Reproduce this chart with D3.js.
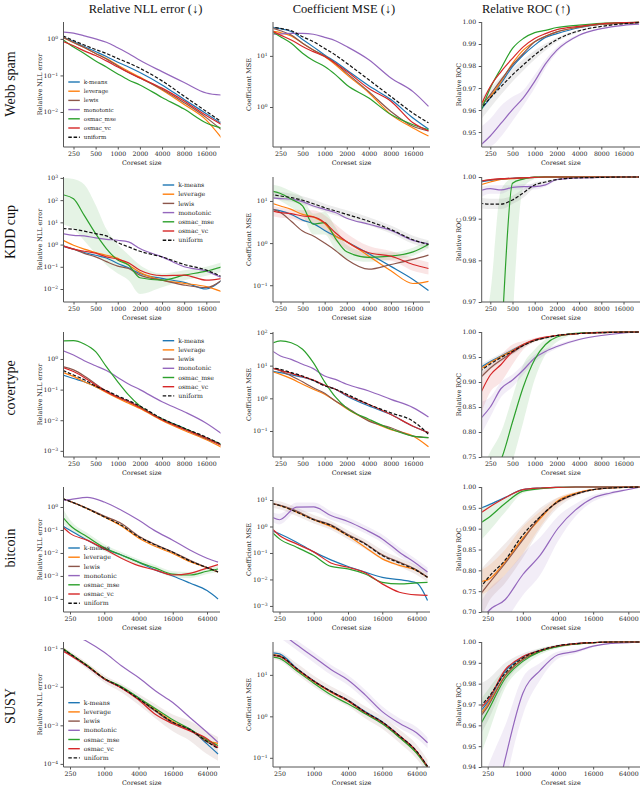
<!DOCTYPE html>
<html>
<head>
<meta charset="utf-8">
<script src="https://cdn.jsdelivr.net/npm/d3@7"></script>
<style>
  body { margin: 0; background: #fff; }
</style>
</head>
<body>
<script>
// ---- labels ----
var methods = ['k-means', 'leverage', 'lewis', 'monotonic', 'osmac_mse', 'osmac_vc', 'uniform'];
var colors = ['#1f77b4', '#ff7f0e', '#8c564b', '#9467bd', '#2ca02c', '#d62728', '#111111'];
var datasets = ['Webb spam', 'KDD cup', 'covertype', 'bitcoin', 'SUSY'];
var titles = ['Relative NLL error (\u2193)', 'Coefficient MSE (\u2193)', 'Relative ROC (\u2191)'];
var yLabels = ['Relative NLL error', 'Coefficient MSE', 'Relative ROC'];

// coreset sizes (first three datasets / last two)
var sizesSmall = [180, 250, 350, 500, 700, 1000, 1400, 2000, 4000, 8000, 16000, 26000];
var sizesLarge = [185, 250, 500, 1000, 2000, 4000, 8000, 16000, 32000, 64000, 100000];
var ticksSmall = [250, 500, 1000, 2000, 4000, 8000, 16000];
var ticksLarge = [250, 1000, 4000, 16000, 64000];

// ROC tick labels
var webbRocTicks = [0.95, 0.96, 0.97, 0.98, 0.99, 1.00];
var kddRocTicks = [0.97, 0.98, 0.99, 1.00];
var covRocTicks = [0.75, 0.80, 0.85, 0.90, 0.95, 1.00];
var btcRocTicks = [0.70, 0.75, 0.80, 0.85, 0.90, 0.95, 1.00];
var susyRocTicks = [0.94, 0.95, 0.96, 0.97, 0.98, 0.99, 1.00];

// ---- values, one row per method (order as in methods) ----
var webbNll = [
  [1.1, 0.85, 0.62, 0.45, 0.33, 0.23, 0.17, 0.12, 0.055, 0.022, 0.009, 0.0048],
  [1.1, 0.8, 0.58, 0.40, 0.29, 0.19, 0.13, 0.09, 0.04, 0.016, 0.006, 0.0019],
  [1.1, 0.8, 0.58, 0.40, 0.28, 0.18, 0.12, 0.085, 0.042, 0.018, 0.007, 0.0032],
  [1.54, 1.44, 1.21, 1.0, 0.81, 0.57, 0.40, 0.26, 0.127, 0.064, 0.033, 0.029],
  [0.95, 0.6, 0.4, 0.25, 0.17, 0.11, 0.075, 0.055, 0.025, 0.012, 0.005, 0.0036],
  [0.85, 0.65, 0.47, 0.35, 0.25, 0.17, 0.12, 0.085, 0.045, 0.02, 0.008, 0.0045],
  [1.21, 0.9, 0.68, 0.51, 0.40, 0.29, 0.22, 0.157, 0.071, 0.027, 0.0103, 0.0053]
];
var webbMse = [
  [36, 34, 30, 21, 15, 10.4, 7.7, 5.3, 2.6, 1.4, 0.61, 0.37],
  [30.5, 28.4, 24.5, 17.6, 13, 9.7, 6.7, 4.3, 1.9, 0.71, 0.39, 0.27],
  [36, 31, 25.5, 17.6, 13, 10, 7.2, 4.6, 2.0, 0.82, 0.42, 0.34],
  [26.5, 27, 27.6, 27.6, 26.5, 23, 19.8, 15.2, 8.4, 3.7, 2.0, 1.03],
  [31, 23.7, 17.6, 11.3, 8.1, 6.2, 4.3, 2.7, 1.5, 0.71, 0.45, 0.36],
  [32, 25.5, 20.5, 15.2, 12.1, 9.7, 7.2, 5.0, 2.3, 1.3, 0.49, 0.34],
  [37, 34.5, 31, 23.7, 19, 14, 10.4, 7.2, 3.4, 1.6, 0.76, 0.49]
];
var webbRoc = [
  [0.9595, 0.9655, 0.9722, 0.9797, 0.985, 0.9895, 0.993, 0.9947, 0.9974, 0.999, 0.9995, 0.9998],
  [0.9632, 0.9662, 0.973, 0.9812, 0.9872, 0.991, 0.9935, 0.9955, 0.9977, 0.999, 0.9995, 0.9998],
  [0.961, 0.967, 0.9737, 0.9805, 0.9857, 0.991, 0.9935, 0.9955, 0.9977, 0.999, 0.9995, 0.9998],
  [0.9437, 0.9482, 0.954, 0.9602, 0.9655, 0.973, 0.981, 0.9872, 0.994, 0.997, 0.9985, 0.999],
  [0.958, 0.970, 0.979, 0.988, 0.9925, 0.9952, 0.9962, 0.9975, 0.9986, 0.9994, 0.9997, 0.9998],
  [0.961, 0.9707, 0.9775, 0.9835, 0.9887, 0.9925, 0.9947, 0.9965, 0.998, 0.9992, 0.9997, 0.9998],
  [0.960, 0.9655, 0.9707, 0.976, 0.9805, 0.985, 0.9887, 0.992, 0.996, 0.998, 0.9992, 0.9997]
];

var kddNll = [
  [0.84, 0.62, 0.44, 0.33, 0.25, 0.14, 0.09, 0.05, 0.03, 0.02, 0.01, 0.025],
  [1.56, 0.93, 0.62, 0.44, 0.33, 0.24, 0.12, 0.056, 0.025, 0.018, 0.0127, 0.0076],
  [0.87, 0.62, 0.4, 0.28, 0.17, 0.107, 0.084, 0.042, 0.025, 0.015, 0.0115, 0.025],
  [3.1, 2.6, 2.45, 2.0, 1.73, 1.56, 1.32, 0.66, 0.28, 0.1, 0.064, 0.032],
  [174, 115, 20.6, 3.1, 0.66, 0.2, 0.12, 0.032, 0.025, 0.042, 0.064, 0.1],
  [0.87, 0.62, 0.5, 0.41, 0.28, 0.22, 0.15, 0.07, 0.04, 0.042, 0.025, 0.03],
  [5.2, 4.9, 4.0, 3.1, 2.45, 1.23, 0.79, 0.5, 0.28, 0.127, 0.071, 0.036]
];
var kddMse = [
  [6.3, 5.8, 4.8, 3.5, 2.9, 2.0, 1.47, 1.08, 0.56, 0.28, 0.137, 0.075],
  [9.1, 7.6, 6.3, 4.8, 4.2, 2.9, 1.47, 1.08, 0.49, 0.22, 0.11, 0.124],
  [6.7, 5.3, 3.3, 1.93, 1.47, 1.0, 0.67, 0.41, 0.24, 0.31, 0.41, 0.52],
  [12, 11.4, 11, 9.6, 7.6, 6.3, 5.3, 3.9, 2.8, 2.0, 1.16, 0.96],
  [17.3, 15, 11, 7.6, 2.8, 3.05, 1.3, 0.62, 0.46, 0.49, 0.62, 0.93],
  [6.0, 5.3, 5.0, 4.4, 4.2, 3.05, 1.76, 1.08, 0.59, 0.49, 0.31, 0.25],
  [14.4, 13.1, 12, 10.4, 8.6, 6.9, 5.8, 4.8, 3.3, 2.1, 1.2, 0.93]
];
var kddRoc = [
  [0.9988, 0.9992, 0.9995, 0.9997, 0.9998, 0.9999, 1.0, 1.0, 1.0, 1.0, 1.0, 1.0],
  [0.9981, 0.9988, 0.9994, 0.9996, 0.9998, 0.9999, 1.0, 1.0, 1.0, 1.0, 1.0, 1.0],
  [0.999, 0.9993, 0.9995, 0.9997, 0.9998, 0.9999, 1.0, 1.0, 1.0, 1.0, 1.0, 1.0],
  [0.9967, 0.9972, 0.9969, 0.9975, 0.9977, 0.9977, 0.9981, 0.9994, 0.9998, 0.9999, 1.0, 1.0],
  [0.90, 0.92, 0.96, 0.9985, 0.9995, 1.0, 1.0, 1.0, 1.0, 1.0, 1.0, 1.0],
  [0.999, 0.9994, 0.9996, 0.9997, 0.9998, 0.9999, 1.0, 1.0, 1.0, 1.0, 1.0, 1.0],
  [0.9937, 0.9935, 0.9935, 0.9945, 0.9962, 0.9981, 0.9988, 0.9994, 0.9998, 0.9999, 1.0, 1.0]
];

var covNll = [
  [0.3, 0.23, 0.18, 0.125, 0.086, 0.056, 0.04, 0.026, 0.011, 0.0055, 0.0026, 0.0016],
  [0.36, 0.27, 0.18, 0.125, 0.08, 0.052, 0.036, 0.024, 0.0098, 0.0046, 0.0023, 0.0013],
  [0.56, 0.44, 0.28, 0.153, 0.09, 0.058, 0.041, 0.027, 0.0105, 0.0052, 0.0025, 0.0015],
  [1.87, 1.35, 0.88, 0.6, 0.42, 0.25, 0.153, 0.1, 0.04, 0.019, 0.008, 0.0036],
  [3.9, 4.0, 3.1, 1.73, 0.56, 0.18, 0.067, 0.029, 0.011, 0.0055, 0.0026, 0.0016],
  [0.53, 0.39, 0.25, 0.14, 0.086, 0.056, 0.04, 0.026, 0.0103, 0.0051, 0.0026, 0.0015],
  [0.42, 0.3, 0.21, 0.13, 0.093, 0.062, 0.044, 0.029, 0.0113, 0.0055, 0.0028, 0.0016]
];
var covMse = [
  [6.9, 6.1, 5.2, 4.4, 3.5, 2.5, 1.9, 1.18, 0.58, 0.32, 0.14, 0.089],
  [6.9, 5.4, 4.0, 2.7, 1.9, 1.33, 0.83, 0.48, 0.21, 0.11, 0.07, 0.033],
  [8.7, 6.9, 4.8, 3.2, 2.1, 1.42, 0.83, 0.52, 0.2, 0.126, 0.07, 0.063],
  [31.6, 19.8, 15.6, 11, 8.1, 4.8, 3.8, 2.7, 1.68, 0.93, 0.52, 0.27],
  [45, 57, 50, 31.6, 12.3, 3.2, 1.1, 0.5, 0.23, 0.115, 0.07, 0.063],
  [8.7, 7.2, 5.8, 4.6, 3.6, 2.5, 1.9, 1.24, 0.65, 0.32, 0.14, 0.089],
  [8.7, 7.7, 6.1, 4.8, 3.55, 2.4, 1.9, 1.33, 0.65, 0.36, 0.2, 0.079]
];
var covRoc = [
  [0.928, 0.941, 0.952, 0.964, 0.975, 0.983, 0.989, 0.993, 0.997, 0.9987, 0.9997, 1.0],
  [0.924, 0.939, 0.951, 0.963, 0.975, 0.983, 0.989, 0.993, 0.997, 0.9987, 0.9997, 1.0],
  [0.907, 0.928, 0.944, 0.959, 0.973, 0.983, 0.989, 0.993, 0.997, 0.9987, 0.9997, 1.0],
  [0.825, 0.85, 0.887, 0.904, 0.924, 0.948, 0.961, 0.971, 0.985, 0.993, 0.998, 1.0],
  [0.70, 0.72, 0.745, 0.82, 0.89, 0.945, 0.975, 0.99, 0.998, 0.9995, 1.0, 1.0],
  [0.874, 0.914, 0.935, 0.961, 0.975, 0.985, 0.99, 0.993, 0.997, 0.9993, 1.0, 1.0],
  [0.921, 0.936, 0.949, 0.961, 0.973, 0.983, 0.988, 0.993, 0.997, 0.9987, 0.9997, 1.0]
];

var btcNll = [
  [0.151, 0.098, 0.036, 0.015, 0.0082, 0.004, 0.0018, 0.001, 0.00049, 0.00023, 0.0001],
  [2.3, 1.76, 0.85, 0.37, 0.15, 0.045, 0.019, 0.0095, 0.0042, 0.0023, 0.0015],
  [2.3, 1.76, 0.88, 0.4, 0.19, 0.055, 0.023, 0.011, 0.0048, 0.0023, 0.0015],
  [1.94, 2.1, 2.6, 1.65, 0.72, 0.27, 0.089, 0.036, 0.0135, 0.0059, 0.004],
  [0.37, 0.16, 0.051, 0.017, 0.0082, 0.004, 0.0022, 0.0012, 0.0011, 0.0016, 0.002],
  [0.137, 0.071, 0.036, 0.015, 0.0059, 0.0028, 0.0018, 0.0011, 0.0013, 0.0022, 0.0031],
  [2.3, 1.76, 0.85, 0.37, 0.16, 0.051, 0.022, 0.0107, 0.0045, 0.0023, 0.0015]
];
var btcMse = [
  [0.7, 0.53, 0.255, 0.11, 0.055, 0.031, 0.019, 0.012, 0.0098, 0.0074, 0.0016],
  [7.2, 6.2, 3.5, 1.79, 1.0, 0.45, 0.165, 0.06, 0.034, 0.022, 0.012],
  [7.2, 6.5, 3.8, 1.9, 1.15, 0.5, 0.23, 0.085, 0.045, 0.023, 0.012],
  [2.25, 1.8, 5.4, 5.5, 2.6, 1.55, 0.77, 0.34, 0.107, 0.039, 0.019],
  [0.61, 0.34, 0.165, 0.08, 0.031, 0.025, 0.016, 0.0078, 0.0068, 0.0074, 0.0078],
  [0.82, 0.46, 0.22, 0.11, 0.042, 0.029, 0.018, 0.0068, 0.0033, 0.0026, 0.0025],
  [7.2, 6.2, 3.5, 1.79, 1.09, 0.46, 0.22, 0.08, 0.042, 0.022, 0.012]
];
var btcRoc = [
  [0.949, 0.956, 0.975, 0.9936, 0.9976, 0.9992, 1.0, 1.0, 1.0, 1.0, 1.0],
  [0.773, 0.777, 0.821, 0.877, 0.925, 0.967, 0.985, 0.9936, 0.9976, 0.9992, 1.0],
  [0.741, 0.765, 0.817, 0.873, 0.929, 0.964, 0.983, 0.9936, 0.9976, 0.9992, 1.0],
  [0.67, 0.70, 0.73, 0.79, 0.837, 0.901, 0.945, 0.9735, 0.9856, 0.994, 0.9995],
  [0.913, 0.925, 0.961, 0.99, 0.996, 0.9992, 1.0, 1.0, 1.0, 1.0, 1.0],
  [0.937, 0.949, 0.974, 0.9936, 0.9976, 0.9992, 1.0, 1.0, 1.0, 1.0, 1.0],
  [0.757, 0.781, 0.825, 0.885, 0.929, 0.965, 0.983, 0.9936, 0.9976, 0.9992, 1.0]
];

var susyNll = [
  [0.092, 0.07, 0.034, 0.016, 0.0094, 0.0052, 0.0024, 0.0012, 0.0008, 0.00033, 0.00018],
  [0.1, 0.072, 0.036, 0.0165, 0.0097, 0.005, 0.0025, 0.00125, 0.00077, 0.0004, 0.00034],
  [0.095, 0.07, 0.035, 0.0162, 0.0095, 0.0048, 0.0023, 0.00115, 0.00075, 0.00037, 0.00027],
  [0.35, 0.25, 0.15, 0.079, 0.035, 0.0175, 0.0078, 0.0039, 0.0016, 0.00066, 0.00036],
  [0.1, 0.073, 0.036, 0.0165, 0.0102, 0.0052, 0.0027, 0.0014, 0.0008, 0.00042, 0.0003],
  [0.085, 0.066, 0.034, 0.016, 0.0093, 0.0046, 0.0019, 0.0011, 0.00072, 0.00045, 0.00026],
  [0.097, 0.072, 0.035, 0.0164, 0.0096, 0.0049, 0.0024, 0.0012, 0.00078, 0.00038, 0.00025]
];
var susyMse = [
  [34, 32, 14.5, 7.2, 4.0, 2.45, 1.3, 0.74, 0.34, 0.14, 0.058],
  [31, 29, 13.5, 6.8, 3.8, 2.3, 1.2, 0.7, 0.32, 0.135, 0.06],
  [30, 28, 14, 7, 3.9, 2.35, 1.22, 0.7, 0.32, 0.14, 0.062],
  [150, 110, 53, 27, 13.5, 7.5, 3.3, 1.3, 0.68, 0.4, 0.23],
  [27, 25, 12.5, 6.3, 3.3, 2.0, 1.15, 0.66, 0.31, 0.13, 0.058],
  [29, 28, 14, 7.1, 3.95, 2.4, 1.25, 0.72, 0.34, 0.145, 0.06],
  [30, 28.5, 14.2, 7.1, 4.0, 2.42, 1.27, 0.73, 0.34, 0.145, 0.062]
];
var susyRoc = [
  [0.9666, 0.971, 0.986, 0.9928, 0.996, 0.9982, 0.9992, 0.9997, 1.0, 1.0, 1.0],
  [0.965, 0.970, 0.984, 0.9918, 0.9957, 0.998, 0.9991, 0.9997, 1.0, 1.0, 1.0],
  [0.964, 0.969, 0.9838, 0.9915, 0.9955, 0.998, 0.9991, 0.9997, 1.0, 1.0, 1.0],
  [0.89, 0.905, 0.944, 0.9754, 0.9865, 0.9939, 0.9955, 0.998, 0.9993, 0.9997, 1.0],
  [0.960, 0.9666, 0.9826, 0.9907, 0.9955, 0.9978, 0.999, 0.9997, 1.0, 1.0, 1.0],
  [0.968, 0.972, 0.9867, 0.993, 0.996, 0.9982, 0.9992, 0.9997, 1.0, 1.0, 1.0],
  [0.969, 0.973, 0.985, 0.9923, 0.996, 0.9982, 0.9992, 0.9997, 1.0, 1.0, 1.0]
];

// ---- shaded spread bands: [row, col, method, low, high] ----
var bands = [
  [0, 2, 3, [0.9437, 0.9437, 0.948, 0.955, 0.962, 0.970, 0.979, 0.986, 0.9935, 0.9968, 0.9984, 0.999],
             [0.952, 0.956, 0.962, 0.966, 0.969, 0.976, 0.983, 0.9885, 0.9945, 0.9972, 0.9986, 0.9991]],
  [0, 2, 6, [0.955, 0.961, 0.967, 0.973, 0.978, 0.983, 0.987, 0.991, 0.9955, 0.9978, 0.9991, 0.9996],
             [0.965, 0.970, 0.975, 0.979, 0.983, 0.987, 0.9902, 0.993, 0.9965, 0.9982, 0.9993, 0.9998]],
  [1, 0, 4, [8, 5, 1.5, 0.4, 0.12, 0.05, 0.025, 0.006, 0.012, 0.025, 0.04, 0.06],
             [1000, 900, 500, 60, 5, 1.0, 0.35, 0.12, 0.05, 0.07, 0.1, 0.16]],
  [1, 1, 4, [12, 10, 7, 4.5, 1.6, 1.6, 0.7, 0.42, 0.36, 0.4, 0.5, 0.75],
             [25, 22, 17, 12, 5, 5.5, 2.4, 0.9, 0.6, 0.6, 0.78, 1.15]],
  [1, 1, 5, [4.5, 4, 3.8, 3.2, 3.0, 2.0, 1.1, 0.7, 0.42, 0.38, 0.22, 0.18],
             [8, 7, 6.5, 6, 6, 4.6, 2.8, 1.7, 0.85, 0.65, 0.44, 0.35]],
  [1, 1, 6, [11.5, 10.5, 9.6, 8.3, 6.9, 5.5, 4.6, 3.8, 2.6, 1.7, 0.96, 0.74],
             [18, 16.4, 15, 13, 10.8, 8.6, 7.2, 6, 4.1, 2.6, 1.5, 1.16]],
  [1, 2, 4, [0.9, 0.9, 0.9, 0.965, 0.9975, 0.9995, 1, 1, 1, 1, 1, 1],
             [0.96, 0.972, 0.997, 0.9997, 1.0, 1.0, 1, 1, 1, 1, 1, 1]],
  [1, 2, 6, [0.9925, 0.9923, 0.9923, 0.9935, 0.995, 0.9975, 0.9985, 0.9992, 0.9997, 0.9999, 1, 1],
             [0.995, 0.9948, 0.9948, 0.9955, 0.9972, 0.9987, 0.9991, 0.9996, 0.9999, 1, 1, 1]],
  [1, 2, 3, [0.995, 0.996, 0.996, 0.997, 0.997, 0.997, 0.9977, 0.9991, 0.9997, 0.9999, 1, 1],
             [0.9975, 0.998, 0.998, 0.998, 0.9983, 0.9983, 0.9985, 0.9996, 0.9999, 1, 1, 1]],
  [2, 2, 4, [0.5, 0.6, 0.65, 0.74, 0.82, 0.905, 0.955, 0.98, 0.996, 0.999, 1, 1],
             [0.72, 0.76, 0.80, 0.87, 0.935, 0.965, 0.985, 0.995, 0.999, 1, 1, 1]],
  [2, 2, 5, [0.83, 0.88, 0.90, 0.935, 0.965, 0.981, 0.988, 0.992, 0.9965, 0.999, 1, 1],
             [0.915, 0.935, 0.955, 0.975, 0.982, 0.988, 0.992, 0.994, 0.9975, 0.9995, 1, 1]],
  [2, 2, 3, [0.79, 0.83, 0.87, 0.89, 0.915, 0.94, 0.955, 0.967, 0.983, 0.992, 0.9975, 1],
             [0.86, 0.87, 0.90, 0.915, 0.935, 0.955, 0.966, 0.975, 0.987, 0.994, 0.9985, 1]],
  [2, 2, 6, [0.905, 0.925, 0.94, 0.955, 0.968, 0.98, 0.986, 0.992, 0.9965, 0.9985, 0.9996, 1],
             [0.935, 0.946, 0.957, 0.967, 0.977, 0.986, 0.99, 0.994, 0.9975, 0.999, 0.9998, 1]],
  [3, 0, 4, [0.2, 0.1, 0.035, 0.012, 0.006, 0.003, 0.0017, 0.0009, 0.0008, 0.0012, 0.0015],
             [0.9, 0.28, 0.075, 0.024, 0.011, 0.0053, 0.0029, 0.0016, 0.0015, 0.0021, 0.0027]],
  [3, 1, 2, [5, 4.5, 2.5, 1.3, 0.75, 0.33, 0.14, 0.055, 0.03, 0.015, 0.008],
             [10, 9, 5.2, 2.7, 1.6, 0.7, 0.32, 0.13, 0.065, 0.034, 0.018]],
  [3, 1, 3, [1.5, 1.2, 3.5, 3.5, 1.8, 1.1, 0.55, 0.24, 0.075, 0.028, 0.013],
             [3.5, 3, 8, 8, 3.8, 2.2, 1.1, 0.5, 0.16, 0.057, 0.028]],
  [3, 2, 2, [0.68, 0.72, 0.77, 0.83, 0.90, 0.95, 0.978, 0.991, 0.997, 0.999, 1],
             [0.80, 0.82, 0.865, 0.91, 0.95, 0.975, 0.988, 0.995, 0.998, 0.9995, 1]],
  [3, 2, 1, [0.74, 0.75, 0.79, 0.84, 0.905, 0.957, 0.98, 0.992, 0.997, 0.999, 1],
             [0.80, 0.81, 0.85, 0.905, 0.942, 0.975, 0.988, 0.995, 0.998, 0.9995, 1]],
  [3, 2, 3, [0.6, 0.64, 0.68, 0.74, 0.79, 0.87, 0.93, 0.965, 0.981, 0.992, 0.999],
             [0.72, 0.75, 0.79, 0.84, 0.88, 0.93, 0.96, 0.981, 0.99, 0.996, 1]],
  [3, 2, 4, [0.87, 0.89, 0.94, 0.985, 0.994, 0.999, 1, 1, 1, 1, 1],
             [0.945, 0.955, 0.975, 0.995, 0.998, 1, 1, 1, 1, 1, 1]],
  [4, 0, 2, [0.085, 0.062, 0.029, 0.013, 0.0072, 0.0034, 0.0015, 0.0007, 0.0004, 0.00018, 0.00012],
             [0.11, 0.083, 0.042, 0.02, 0.012, 0.0066, 0.0035, 0.0019, 0.0013, 0.0007, 0.0005]],
  [4, 1, 2, [24, 22, 10.5, 5.2, 2.9, 1.75, 0.9, 0.5, 0.23, 0.095, 0.042],
             [38, 36, 19, 9.5, 5.3, 3.2, 1.75, 1.0, 0.48, 0.21, 0.09]],
  [4, 1, 3, [110, 80, 40, 20, 10, 5.6, 2.5, 1.0, 0.52, 0.3, 0.17],
             [190, 140, 68, 35, 17.5, 9.8, 4.4, 1.75, 0.9, 0.55, 0.31]],
  [4, 2, 3, [0.85, 0.87, 0.93, 0.965, 0.982, 0.992, 0.9945, 0.9975, 0.9991, 0.9996, 1],
             [0.93, 0.94, 0.96, 0.983, 0.99, 0.9955, 0.9965, 0.9985, 0.9995, 0.9998, 1]],
  [4, 2, 6, [0.955, 0.962, 0.98, 0.99, 0.995, 0.9975, 0.999, 0.9996, 1, 1, 1],
             [0.98, 0.982, 0.99, 0.9945, 0.997, 0.9988, 0.9994, 0.9998, 1, 1, 1]],
  [4, 2, 4, [0.945, 0.955, 0.978, 0.988, 0.994, 0.997, 0.9987, 0.9996, 1, 1, 1],
             [0.972, 0.977, 0.987, 0.993, 0.997, 0.9986, 0.9993, 0.9998, 1, 1, 1]]
];

var panelRows = [
  [webbNll, webbMse, webbRoc],
  [kddNll, kddMse, kddRoc],
  [covNll, covMse, covRoc],
  [btcNll, btcMse, btcRoc],
  [susyNll, susyMse, susyRoc]
];
var yDomains = [
  [[1.1e-3, 2.9], [0.165, 46], [0.9432, 1.0]],
  [[2.6e-3, 1100], [0.04, 37], [0.97, 1.0]],
  [[6.3e-4, 7.6], [0.016, 107], [0.75, 1.0]],
  [[2.7e-5, 7.4], [5.9e-4, 31], [0.70, 1.0]],
  [[8.3e-5, 0.145], [0.06, 62], [0.94, 1.0]]
];
var rocTicks = [webbRocTicks, kddRocTicks, covRocTicks, btcRocTicks, susyRocTicks];

// ---- layout ----
var svg_width = 640, svg_height = 785;
var colLeft = [63.5, 273, 481.7];
var colRight = [220, 430, 640];
var rowTop = [22, 177, 332, 487, 642];
var plotH = 125;
// pixel position of the 250 tick and of the last labelled tick
var xAnchorSmall = [[73.5, 206.3], [280.5, 413], [490.3, 623.5]];
var xAnchorLarge = [[70, 207], [279.5, 416.5], [487.7, 628.3]];
var titleX = [145.5, 344, 526];
var rowLabelY = [84, 232, 388, 548, 706];
var yLabelX = [41.5, 251, 460.5];
// legend: [line x, first row y, font size]
var legendPos = [[68.3, 82, 5.6], [162.7, 185, 6.2], [162.7, 340.7, 6.2], [68.3, 548, 6.2], [68.3, 702.7, 6.2]];
var legendStep = 9.2;

var tickFont = 'DejaVu Serif';
var bigFont = 'Liberation Serif, Times New Roman, serif';
var spineColor = '#555';

var svg = d3.select('body').append('svg')
  .attr('width', svg_width)
  .attr('height', svg_height);

svg.append('rect').attr('width', svg_width).attr('height', svg_height).attr('fill', '#fff');

// column titles
titles.forEach(function(t, c) {
  svg.append('text')
    .attr('x', titleX[c])
    .attr('y', 13)
    .attr('text-anchor', 'middle')
    .attr('font-family', bigFont)
    .attr('font-size', 12.5)
    .attr('fill', '#111')
    .text(t);
});

// row labels
datasets.forEach(function(name, r) {
  svg.append('text')
    .attr('transform', 'translate(14.8,' + rowLabelY[r] + ') rotate(-90)')
    .attr('text-anchor', 'middle')
    .attr('font-family', bigFont)
    .attr('font-size', 14)
    .attr('fill', '#111')
    .text(name);
});

function supLabel(sel, d) {
  var e = Math.round(Math.log10(d));
  sel.text('10');
  sel.append('tspan')
    .attr('dy', '-0.45em')
    .attr('font-size', '72%')
    .text(e < 0 ? '\u2212' + (-e) : String(e));
}

panelRows.forEach(function(rowData, r) {
  var sizes = r < 3 ? sizesSmall : sizesLarge;
  var xt = r < 3 ? ticksSmall : ticksLarge;
  var top = rowTop[r], bottom = top + plotH;

  rowData.forEach(function(series, c) {
    var anchors = (r < 3 ? xAnchorSmall : xAnchorLarge)[c];
    var x = d3.scaleLog().domain([250, xt[xt.length - 1]]).range(anchors);
    var isLog = c < 2;
    var y = (isLog ? d3.scaleLog() : d3.scaleLinear())
      .domain(yDomains[r][c])
      .range([bottom, top]);

    var g = svg.append('g');
    var clipId = 'clip' + r + '_' + c;
    svg.append('clipPath').attr('id', clipId)
      .append('rect')
      .attr('x', colLeft[c] + 0.5)
      .attr('y', top - 2)
      .attr('width', colRight[c] - colLeft[c])
      .attr('height', plotH + 2);
    var plot = g.append('g').attr('clip-path', 'url(#' + clipId + ')');

    // bands
    bands.filter(function(b) { return b[0] === r && b[1] === c; }).forEach(function(b) {
      var area = d3.area()
        .x(function(d, i) { return x(sizes[i]); })
        .y0(function(d, i) { return y(b[3][i]); })
        .y1(function(d, i) { return y(b[4][i]); })
        .curve(d3.curveMonotoneX);
      plot.append('path')
        .attr('d', area(sizes))
        .attr('fill', b[2] === 6 ? '#777' : colors[b[2]])
        .attr('opacity', b[2] === 6 ? 0.14 : 0.12);
    });

    // lines
    series.forEach(function(vals, m) {
      var line = d3.line()
        .x(function(d, i) { return x(sizes[i]); })
        .y(function(d) { return y(d); })
        .curve(d3.curveMonotoneX);
      plot.append('path')
        .attr('d', line(vals))
        .attr('fill', 'none')
        .attr('stroke', colors[m])
        .attr('stroke-width', 1.2)
        .attr('stroke-dasharray', m === 6 ? '3.5,1.8' : null);
    });

    // x axis
    var xAxis = g.append('g')
      .attr('transform', 'translate(0,' + bottom + ')')
      .call(d3.axisBottom(x).tickValues(xt).tickFormat(d3.format('d')).tickSize(2.5).tickPadding(2).tickSizeOuter(0));
    xAxis.select('.domain').remove();
    xAxis.attr('font-family', tickFont).attr('font-size', 6.2);
    xAxis.selectAll('line').attr('stroke', spineColor);
    xAxis.selectAll('text').attr('fill', '#222');

    // y axis
    var yt = isLog ? d3.range(Math.ceil(Math.log10(yDomains[r][c][0])), Math.floor(Math.log10(yDomains[r][c][1])) + 1)
                       .map(function(e) { return Math.pow(10, e); })
                   : rocTicks[r];
    var yAxis = g.append('g')
      .attr('transform', 'translate(' + colLeft[c] + ',0)')
      .call(d3.axisLeft(y).tickValues(yt).tickFormat(isLog ? function() { return ''; } : d3.format('.2f'))
        .tickSize(3).tickPadding(2.5).tickSizeOuter(0));
    yAxis.select('.domain').remove();
    yAxis.attr('font-family', tickFont).attr('font-size', 6.2);
    yAxis.selectAll('line').attr('stroke', spineColor);
    yAxis.selectAll('text').attr('fill', '#222');
    if (isLog) {
      yAxis.selectAll('text').each(function(d) { supLabel(d3.select(this), d); });
    }

    // spines
    g.append('line')
      .attr('x1', colLeft[c]).attr('x2', colLeft[c])
      .attr('y1', top).attr('y2', bottom)
      .attr('stroke', spineColor).attr('stroke-width', 1);
    g.append('line')
      .attr('x1', colLeft[c]).attr('x2', colRight[c])
      .attr('y1', bottom).attr('y2', bottom)
      .attr('stroke', spineColor).attr('stroke-width', 1);

    // axis labels
    g.append('text')
      .attr('x', (colLeft[c] + colRight[c]) / 2)
      .attr('y', bottom + 17.5)
      .attr('text-anchor', 'middle')
      .attr('font-family', tickFont)
      .attr('font-size', 6.4)
      .attr('fill', '#222')
      .text('Coreset size');
    g.append('text')
      .attr('transform', 'translate(' + yLabelX[c] + ',' + (top + plotH / 2) + ') rotate(-90)')
      .attr('text-anchor', 'middle')
      .attr('font-family', tickFont)
      .attr('font-size', 6.4)
      .attr('fill', '#222')
      .text(yLabels[c]);
  });

  // legend in the first panel of each row
  var lp = legendPos[r];
  var leg = svg.append('g');
  methods.forEach(function(name, m) {
    var ly = lp[1] + m * legendStep;
    leg.append('line')
      .attr('x1', lp[0]).attr('x2', lp[0] + 11.5)
      .attr('y1', ly).attr('y2', ly)
      .attr('stroke', colors[m])
      .attr('stroke-width', 1.4)
      .attr('stroke-dasharray', m === 6 ? '3.5,1.8' : null);
    leg.append('text')
      .attr('x', lp[0] + 15.5)
      .attr('y', ly)
      .attr('dy', '0.35em')
      .attr('font-family', tickFont)
      .attr('font-size', lp[2])
      .attr('fill', '#222')
      .text(name);
  });
});
</script>
</body>
</html>
